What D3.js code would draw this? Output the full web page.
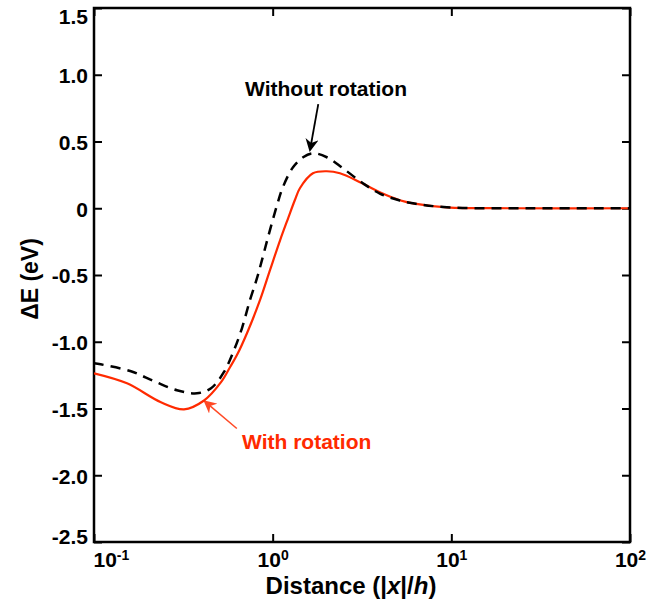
<!DOCTYPE html>
<html>
<head>
<meta charset="utf-8">
<script src="https://cdn.jsdelivr.net/npm/d3@7"></script>
<style>
  body { margin: 0; background: #fff; }
  svg { display: block; font-family: "Liberation Sans", Arial, Helvetica, sans-serif; }
  .tick text { font-weight: bold; font-size: 21px; fill: #000; }
</style>
</head>
<body>
<svg width="654" height="605"></svg>
<script>
// Dados
const semRotX = [0.1, 0.109, 0.161, 0.217, 0.291, 0.377, 0.452, 0.533, 0.607, 0.673, 0.746, 0.817, 0.871, 0.942, 1.057, 1.14, 1.30, 1.48, 1.68, 2.01, 2.47, 3.20, 3.98, 5.15, 6.10, 9.44, 22.1, 100];
const semRotY = [-1.16, -1.169, -1.221, -1.296, -1.363, -1.386, -1.348, -1.228, -1.064, -0.899, -0.689, -0.524, -0.389, -0.217, 0.022, 0.157, 0.307, 0.382, 0.412, 0.382, 0.300, 0.187, 0.11, 0.058, 0.037, 0.007, 0, 0];

const comRotX = [0.1, 0.153, 0.237, 0.319, 0.413, 0.514, 0.577, 0.631, 0.718, 0.849, 0.966, 1.10, 1.22, 1.33, 1.42, 1.68, 2.01, 2.38, 3.08, 3.98, 5.15, 6.10, 9.44, 22.1, 100];
const comRotY = [-1.236, -1.311, -1.453, -1.506, -1.440, -1.303, -1.191, -1.100, -0.936, -0.689, -0.464, -0.240, -0.075, 0.060, 0.150, 0.262, 0.277, 0.262, 0.195, 0.120, 0.060, 0.037, 0.007, 0, 0];

const yTicks = [1.5, 1.0, 0.5, 0, -0.5, -1.0, -1.5, -2.0, -2.5];
const xTicks = [0.1, 1, 10, 100];
const xExpoentes = ["-1", "0", "1", "2"];

// anotações: texto, posição do texto, cauda e ponta da seta (em coordenadas dos dados)
const anotacoes = [
  { texto: "Without rotation", cor: "#000", tx: 1.99, ty: 0.84, de: [1.80, 0.78], ate: [1.62, 0.44] },
  { texto: "With rotation", cor: "#ff2a00", tx: 1.55, ty: -1.80, de: [0.63, -1.65], ate: [0.42, -1.45] }
];

const svg = d3.select("svg");
const margem = { left: 94, top: 8, right: 630, bottom: 542 };

const x = d3.scaleLog().domain([0.1, 100]).range([margem.left, margem.right]);
const y = d3.scaleLinear().domain([-2.5, 1.5]).range([margem.bottom, margem.top]);

const fmt = d => d === 0 ? "0" : d.toFixed(1);

// eixos
svg.append("g")
  .attr("transform", `translate(${margem.left},0)`)
  .call(d3.axisLeft(y).tickValues(yTicks).tickSize(-8).tickPadding(6).tickFormat(fmt))
  .call(g => g.select(".domain").remove())
  .call(g => g.selectAll(".tick line").attr("stroke-width", 2))
  .call(g => g.selectAll(".tick text")
    .attr("dy", d => d === 1.5 ? "0.72em" : d === -2.5 ? "0.05em" : "0.38em"));

svg.append("g")
  .attr("transform", `translate(${margem.right},0)`)
  .call(d3.axisRight(y).tickValues(yTicks).tickSize(-8).tickFormat(""))
  .call(g => g.select(".domain").remove())
  .call(g => g.selectAll(".tick line").attr("stroke-width", 2));

svg.append("g")
  .attr("transform", `translate(0,${margem.top})`)
  .call(d3.axisTop(x).tickValues(xTicks).tickSize(-8).tickFormat(""))
  .call(g => g.select(".domain").remove())
  .call(g => g.selectAll(".tick line").attr("stroke-width", 2));

const eixoX = svg.append("g")
  .attr("transform", `translate(0,${margem.bottom})`)
  .call(d3.axisBottom(x).tickValues(xTicks).tickSize(-8).tickFormat(""))
  .call(g => g.select(".domain").remove())
  .call(g => g.selectAll(".tick line").attr("stroke-width", 2));

eixoX.selectAll(".tick").each(function(d, i) {
  const t = d3.select(this).select("text")
    .attr("text-anchor", i === 0 ? "start" : "middle")
    .attr("dx", i === 0 ? -1 : 0)
    .attr("y", 25)
    .attr("dy", 0);
  t.append("tspan").text("10");
  t.append("tspan").attr("font-size", "14px").attr("dy", "-0.5em").text(xExpoentes[i]);
});

// moldura
svg.append("rect")
  .attr("x", margem.left).attr("y", margem.top)
  .attr("width", margem.right - margem.left).attr("height", margem.bottom - margem.top)
  .attr("fill", "none").attr("stroke", "#000").attr("stroke-width", 2.5);

// curvas
const linha = d3.line()
  .x(d => x(d[0]))
  .y(d => y(d[1]))
  .curve(d3.curveCatmullRom.alpha(0.5));

const defs = svg.append("defs");
defs.append("clipPath").attr("id", "area")
  .append("rect")
  .attr("x", margem.left).attr("y", margem.top)
  .attr("width", margem.right - margem.left).attr("height", margem.bottom - margem.top);

svg.append("path")
  .datum(comRotX.map((v, i) => [v, comRotY[i]]))
  .attr("d", linha)
  .attr("clip-path", "url(#area)")
  .attr("fill", "none")
  .attr("stroke", "#ff2a00")
  .attr("stroke-width", 2.2);

svg.append("path")
  .datum(semRotX.map((v, i) => [v, semRotY[i]]))
  .attr("d", linha)
  .attr("clip-path", "url(#area)")
  .attr("fill", "none")
  .attr("stroke", "#000")
  .attr("stroke-width", 2.5)
  .attr("stroke-dasharray", "10,7");

// setas
anotacoes.forEach((a, i) => {
  defs.append("marker")
    .attr("id", "seta" + i)
    .attr("viewBox", "0 -5 10 10")
    .attr("refX", 8)
    .attr("refY", 0)
    .attr("markerWidth", 13)
    .attr("markerHeight", 13)
    .attr("markerUnits", "userSpaceOnUse")
    .attr("orient", "auto")
    .append("path")
    .attr("d", "M0,-5L10,0L0,5L3,0Z")
    .attr("fill", a.cor);
});

anotacoes.forEach((a, i) => {
  svg.append("line")
    .attr("x1", x(a.de[0])).attr("y1", y(a.de[1]))
    .attr("x2", x(a.ate[0])).attr("y2", y(a.ate[1]))
    .attr("stroke", a.cor)
    .attr("stroke-width", i === 0 ? 1.8 : 1.5)
    .attr("opacity", i === 0 ? 1 : 0.85)
    .attr("marker-end", `url(#seta${i})`);

  svg.append("text")
    .attr("x", x(a.tx)).attr("y", y(a.ty))
    .attr("text-anchor", "middle")
    .attr("font-weight", "bold")
    .attr("font-size", "21px")
    .attr("fill", a.cor)
    .text(a.texto);
});

// títulos dos eixos
svg.append("text")
  .attr("transform", "translate(38,279) rotate(-90)")
  .attr("text-anchor", "middle")
  .attr("font-weight", "bold")
  .attr("font-size", "23px")
  .text("ΔE (eV)");

const tituloX = svg.append("text")
  .attr("x", 351).attr("y", 594)
  .attr("text-anchor", "middle")
  .attr("font-weight", "bold")
  .attr("font-size", "24px");
tituloX.append("tspan").text("Distance (|");
tituloX.append("tspan").attr("font-style", "italic").text("x");
tituloX.append("tspan").text("|/");
tituloX.append("tspan").attr("font-style", "italic").text("h");
tituloX.append("tspan").text(")");
</script>
</body>
</html>
